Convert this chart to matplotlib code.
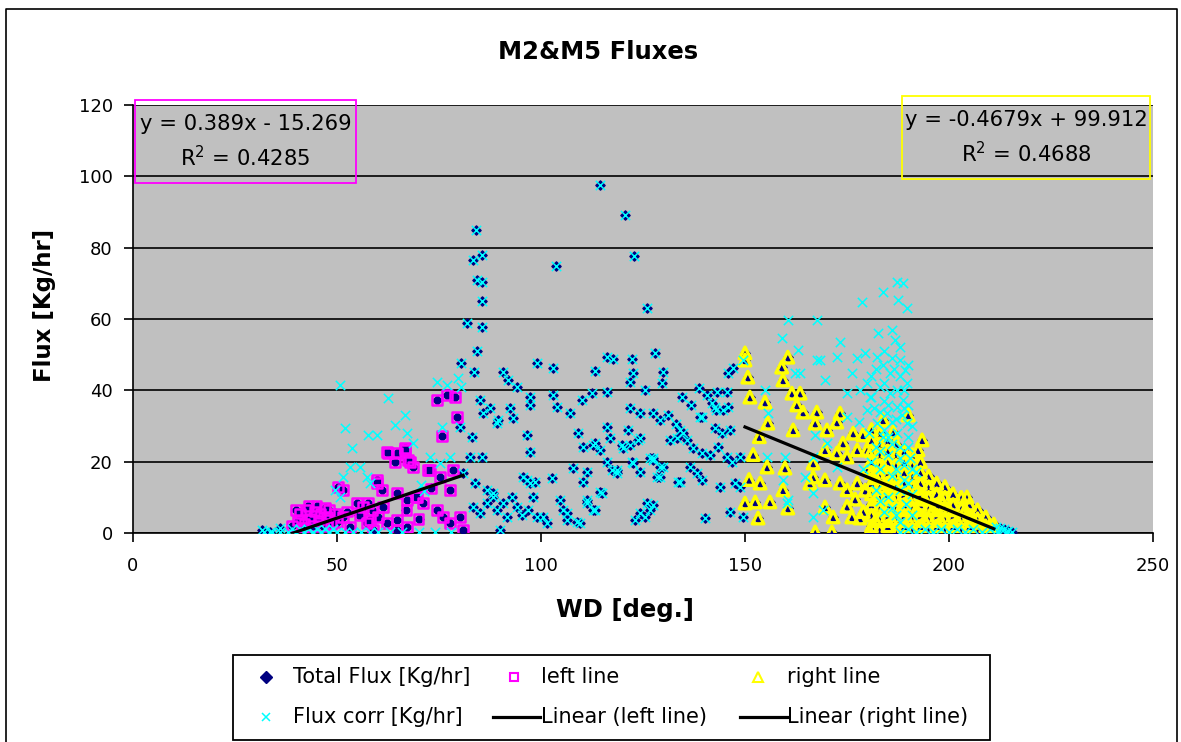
import numpy as np
import matplotlib.pyplot as plt
from matplotlib.lines import Line2D
from matplotlib.patches import Rectangle

# total flux points in the middle (flux corr equals total here)
mid_pts = [
    (114.5, 97.6), (120.6, 89.2), (84.1, 85), (103.7, 74.9), (122.8, 77.7), (83.3, 76.5), (85.5, 78),
    (84.2, 71), (85.5, 70.4), (85.5, 65), (126, 63), (81.8, 58.9), (85.5, 57.8), (84.3, 51),
    (80.4, 47.7), (83.6, 45.1), (99, 47.7), (102.9, 46.3), (113.2, 45.4), (116.2, 49.3), (117.6, 48.8),
    (122.3, 48.8), (127.9, 50.5), (90.7, 45.1), (91.9, 42.9), (94.1, 40.9), (97.3, 38.1), (97.3, 35.9),
    (102.9, 38.7), (103.9, 35.3), (107.1, 33.6), (110, 37.3), (112.5, 39.2), (116.2, 39.5), (122.5, 44.9),
    (121.8, 42.3), (125.5, 40.1), (129.9, 45.1), (129.7, 42), (121.8, 35), (124.3, 33.6), (127.5, 33.6),
    (129.2, 31.7), (85, 37.3), (87.5, 35), (89.2, 30.8), (92.4, 35), (93.1, 32.2), (96.6, 27.5),
    (97.3, 22.7), (109.1, 28), (110.3, 24.1), (112.7, 24.7), (114.5, 23.3), (116.2, 29.7), (116.9, 26.6),
    (120.1, 23.8), (121.8, 24.7), (124.3, 26.6), (133.3, 26.6), (134.8, 28), (139, 32.5), (107.8, 18.2),
    (111.3, 17.1), (110.3, 14.3), (116.2, 19.9), (118.6, 17.7), (122.5, 19.6), (124.3, 17.1), (127.5, 20.5),
    (129.9, 18.5), (129.2, 15.7), (134.1, 14.3), (96.6, 14.9), (98.5, 14.3), (102.7, 15.4), (114.5, 11.5),
    (111.3, 9.3), (112.7, 6.4), (126, 8.4), (124.3, 5.6), (123, 3.6), (140.2, 4.2), (104.7, 9.3),
    (106.4, 5.6), (108.8, 3.1), (83.3, 7.3), (85, 5.6), (86.8, 8.4), (88.2, 11.2), (89.2, 6.4),
    (90.7, 8.4), (91.7, 4.5), (92.9, 10.1), (94.1, 7.3), (95.3, 5), (96.8, 6.4), (98, 10.1), (99, 4.5),
    (100.5, 4.5), (101.5, 2.8), (90, 0.8), (105.4, 6.4), (106.4, 3.6), (109.6, 2.8), (111.3, 8.4),
    (113.2, 6.4), (114.9, 11.2), (85.8, 33.6), (89.5, 31.7), (82.6, 21.3), (85.5, 21.3), (80.1, 29.7),
    (83.1, 26.9), (80.9, 16.8), (83.8, 14), (86.8, 12.1), (88.2, 10.1), (95.6, 15.7), (97.3, 14),
    (113.2, 25.2), (119.9, 24.7), (121.3, 28.9), (123.8, 26.1), (117.4, 17.7), (118.6, 16.8),
    (122.3, 19.9), (126.7, 21), (127.5, 7.9), (138.7, 40.7), (140.7, 38.7), (141.9, 36.5), (142.9, 34.5),
    (145.8, 44.9), (147, 46.3), (143.1, 39.5), (145.6, 39.5), (142.6, 35.3), (144.6, 34.5), (145.8, 35.3),
    (139.5, 32.5), (142.6, 29.4), (144.4, 28), (146.3, 28.9), (134.1, 28.9), (135.8, 26.1), (131.6, 26.1),
    (137.3, 23.8), (139.5, 22.4), (141.4, 21.9), (143.4, 24.1), (145.6, 21.3), (146.8, 19.9), (148.8, 21.3),
    (136.5, 18.5), (138.2, 16.8), (139.5, 14.9), (127.5, 21), (129.2, 18.5), (128.4, 15.7), (133.6, 14.3),
    (143.9, 12.9), (147.5, 14), (148.8, 12.9), (146.3, 5.9), (149.5, 4.5), (126.7, 6.4), (125.5, 4.5),
    (134.6, 38), (136.8, 36), (131.2, 33.2), (133, 30.5), (31.6, 0.8), (33.6, 0.3), (36, 1.4),
    (211.5, 1.8), (212.5, 1.5), (213.5, 1.0), (214.5, 0.5), (215.5, 0.3),
]

# "left line" subset
left_pts = [
    (74.5, 37.3), (77, 38.7), (78.9, 38.1), (79.4, 32.5), (75.7, 27.2), (62.5, 22.4), (64.2, 19.9),
    (66.7, 23.8), (67.9, 19.9), (68.6, 18.5), (72.3, 17.7), (50.2, 12.9), (59.8, 14), (61, 12.1),
    (57.6, 8.4), (58.6, 6.4), (64.7, 11.2), (67.2, 9.3), (69.6, 10.1), (71.1, 8.4), (74.5, 6.4),
    (76, 4.5), (77.7, 2.8), (80.1, 4.5), (80.9, 0.8), (62.3, 2.8), (64.7, 0.8), (67.2, 1.7), (57.4, 2.8),
    (58.8, 0.8), (51.5, 4.5), (53.2, 1.7), (54.9, 8.4), (39, 2), (40.5, 3.5), (41, 5.5), (42, 2.5),
    (42.5, 6.5), (43.5, 4), (44, 2), (44.5, 6), (45.5, 3.5), (46, 5.5), (46.5, 2), (47.5, 4.5), (48, 6.5),
    (48.5, 2.5), (40, 6.5), (49.5, 5.5), (50, 3), (43, 7.5), (72.8, 17.7), (75.2, 15.7), (77.7, 12.1),
    (78.4, 17.7), (69.4, 10.1), (67, 6.4), (64.7, 3.6), (59.8, 14.9), (56.4, 7.3), (58.1, 3.6),
    (61.3, 7.3), (51.5, 12.1), (64.7, 22.4), (66.7, 23.3), (67.4, 20.5), (62.3, 22.7),
    (41.5, 1.5), (45, 7.5), (47, 7), (52.5, 6), (55.5, 5), (60, 4.5), (70, 4), (73, 12.5),
]

# "right line" subset
right_pts = [
    (150, 50.5), (150, 48.5), (150.7, 43.7), (151.2, 38.1), (154.9, 36.7), (155.6, 30.8), (159, 46.5),
    (159.3, 42.9), (160.5, 49.3), (161.5, 39.2), (163.5, 39.2), (162.7, 35.9), (164.2, 33.9),
    (161.8, 28.9), (167.6, 33.9), (167.2, 30.8), (170.1, 28.9), (173.3, 33.6), (172.5, 31.1),
    (155.4, 18.5), (159.8, 18.2), (159.3, 12.1), (160.5, 7), (150, 8.4), (152.5, 8.7), (156.1, 8.7),
    (153.2, 4.2), (153.7, 14), (166.7, 19.6), (166.7, 15.7), (165.9, 14), (169.6, 14.9), (169.6, 7.3),
    (171.6, 4.5), (176.2, 4.5), (178.2, 4.2), (167.2, 0.3), (171.3, 0.3), (180.6, 0.3), (187.3, 0.3),
    (176.5, 28), (178.9, 27.5), (174, 25.2), (177.5, 23.3), (179.9, 23.3), (183.8, 31.7), (186.3, 28.3),
    (190, 33.1), (193.4, 26.1), (192.4, 23.3), (169.6, 23.3), (172.5, 22.4), (175, 21.3), (173.3, 14),
    (175, 12.1), (177.5, 14), (175, 7.5), (177, 9.5), (151, 15), (152, 22), (153.5, 27),
    (181, 2), (181, 5), (181, 8), (181, 11), (181, 14), (181, 17), (181, 20), (181, 23), (181, 26), (181, 29),
    (183, 1), (183, 4), (183, 7), (183, 10), (183, 13), (183, 16), (183, 19), (183, 22), (183, 25), (183, 28),
    (185, 2), (185, 5), (185, 8), (185, 11), (185, 14), (185, 17), (185, 20), (185, 23), (185, 26),
    (187, 1), (187, 4), (187, 7), (187, 10), (187, 13), (187, 16), (187, 19), (187, 22), (187, 25),
    (189, 2), (189, 5), (189, 8), (189, 11), (189, 14), (189, 17), (189, 20), (189, 23),
    (191, 1), (191, 4), (191, 7), (191, 10), (191, 13), (191, 16), (191, 19), (191, 22),
    (193, 2), (193, 5), (193, 8), (193, 11), (193, 14), (193, 17), (193, 20),
    (195, 1), (195, 4), (195, 7), (195, 10), (195, 13), (195, 16),
    (197, 2), (197, 5), (197, 8), (197, 11), (197, 14),
    (199, 1), (199, 4), (199, 7), (199, 10), (199, 13),
    (201, 2), (201, 5), (201, 8), (201, 11),
    (203, 1), (203, 4), (203, 7), (203, 10),
    (205, 2), (205, 5), (205, 8), (207, 1), (207, 4), (207, 6.5),
    (209, 2), (209, 4.5), (211, 1), (211, 2.5), (204.4, 10.1),
    (182, 3.5), (182, 9.5), (182, 15.5), (184, 6.5), (184, 12.5), (184, 18.5), (186, 3.5), (186, 9.5),
    (186, 15.5), (188, 6.5), (188, 12.5), (190, 3.5), (190, 9.5), (192, 6.5), (192, 12.5), (194, 3.5),
    (194, 9.5), (196, 6.5), (198, 3.5), (198, 9.5), (200, 6.5), (202, 3.5), (204, 6.5), (206, 3.5),
    (208, 3), (210, 2), (179, 6), (179.5, 12), (180, 18),
]

# flux corr points that differ from total flux
corr_extra = [
    (50.7, 41.5), (62.5, 37.8), (66.7, 33.1), (64.2, 30.3), (67.2, 28), (68.6, 25.2), (52, 29.4),
    (57.6, 27.5), (59.8, 27.5), (53.7, 23.8), (74.5, 42.3), (77, 41.5), (75.7, 29.7), (53.2, 18.5),
    (55.6, 18.5), (51.5, 15.7), (57.4, 15.7), (58.1, 14), (49.5, 12.1), (50.7, 10.1), (72.8, 21.3),
    (75.2, 19.6), (77.7, 21.3), (70.5, 13.5), (71.3, 11.7), (79.6, 43.5), (80.5, 41),
    (187.3, 70.4), (188.7, 70.1), (183.8, 67.6), (187.5, 65.3), (189.7, 63.1), (178.7, 64.8),
    (160.5, 59.7), (167.6, 59.7), (182.6, 56.1), (186, 56.9), (186.8, 54.1), (188, 52.1), (173.3, 53.5),
    (168.4, 48.5), (172.5, 49.3), (163.5, 44.9), (176.2, 44.9), (177.5, 49.1), (179.4, 50.5),
    (182.4, 49.3), (183.8, 47.1), (185.5, 44.9), (188, 48.5), (189.2, 45.7), (175, 39.2), (178.2, 40.1),
    (180.6, 38.1), (183.1, 40.9), (185.5, 39.2), (187.3, 40.1), (189.7, 42), (188.7, 37.3), (175, 32.5),
    (179.9, 34.5), (182.4, 30.8), (184.8, 33.6), (187.3, 35.3), (189.7, 30.8), (183.8, 26.9), (187.3, 28),
    (167.2, 27.5), (170.1, 25.2), (166.7, 21.3), (164.7, 15.7), (172.5, 18.5), (166.7, 11.2),
    (169.1, 6.4), (160.3, 8.4), (166.7, 4.5), (159, 54.7), (163, 51.3), (162.3, 44.9), (167.6, 48.5),
    (169.6, 42.9), (154.9, 40.1), (155.6, 33.6), (155.4, 21.3), (159.8, 21.3), (159.3, 14.9),
    (160.5, 9.3), (149.5, 48.5), (181, 44), (184, 42), (186.5, 46), (189, 40), (181.5, 35), (184, 37),
    (186, 31), (188.5, 33), (190, 36), (182, 24), (185, 22), (188, 24), (190, 27), (183, 18), (186, 16),
    (189, 19), (190.5, 21), (182, 12), (185, 10), (188, 12), (190, 14), (184, 6), (187, 5), (189.5, 8),
    (191, 11), (192, 17), (180.5, 28), (179, 18), (178, 31),
    (180, 42), (182, 46), (184, 51), (186, 49), (188, 44), (190, 47), (181, 38), (183, 34), (185, 36),
    (187, 32), (189, 35), (191, 30), (184, 29), (186, 25), (188, 21), (190, 24), (181, 20), (183, 23),
    (185, 27), (187, 18), (189, 15), (191, 18), (183, 9), (186, 7), (188, 3), (191, 5),
    # zeroed values along the bottom
    (32, 0.3), (34, 0.3), (36, 0.3), (38, 0.3), (39, 1.2), (40, 0.3), (41, 1.2), (42, 0.3), (43, 1.2),
    (44, 0.3), (45, 1.2), (46, 0.3), (47, 1.2), (48, 0.3), (49, 1.2), (50, 0.3), (52, 0.3), (54, 0.3),
    (56, 0.3), (58, 0.3), (60, 0.3), (63, 0.3), (66, 0.3), (70, 0.3), (74, 0.3), (78, 0.3),
    (188, 0.3), (190, 1.2), (192, 0.3), (194, 1.2), (196, 0.3), (198, 1.2), (200, 0.3), (202, 1.2),
    (204, 0.3), (206, 1.2), (208, 0.3), (210, 1.2), (212, 0.3), (214, 0.3),
]

left_fit = (0.389, -15.269)
right_fit = (-0.4679, 99.912)
left_eq = ["y = 0.389x - 15.269", "R$^2$ = 0.4285"]
right_eq = ["y = -0.4679x + 99.912", "R$^2$ = 0.4688"]

mid = np.array(mid_pts)
left = np.array(left_pts)
right = np.array(right_pts)
extra = np.array(corr_extra)
total = np.vstack([mid, left, right])
corr = np.vstack([mid, extra])

W, H = 1181, 742
fig = plt.figure(figsize=(W / 100, H / 100), dpi=100)
ax = fig.add_axes([133 / W, 1 - 533 / H, 1020 / W, 428 / H])
ax.set_facecolor('#C0C0C0')

navy, mag, yel, cyan = '#000080', '#FF00FF', '#FFFF00', '#00FFFF'

ax.scatter(total[:, 0], total[:, 1], marker='D', s=22, color=navy, zorder=3)
ax.scatter(left[:, 0], left[:, 1], marker='s', s=48, facecolors='none', edgecolors=mag, linewidths=1.8, zorder=4)
ax.scatter(right[:, 0], right[:, 1], marker='^', s=70, facecolors='none', edgecolors=yel, linewidths=2.4, zorder=5)
ax.scatter(corr[:, 0], corr[:, 1], marker='x', s=45, color=cyan, linewidths=1.1, zorder=6)

# trendlines over each subset's x range
lx = np.array([left[:, 0].min(), left[:, 0].max()])
rx = np.array([right[:, 0].min(), right[:, 0].max()])
ax.plot(lx, np.polyval(left_fit, lx), color='black', lw=2.3, zorder=7)
ax.plot(rx, np.polyval(right_fit, rx), color='black', lw=2.3, zorder=7)

ax.set_xlim(0, 250)
ax.set_ylim(0, 120)
ax.set_xticks(range(0, 251, 50))
ax.set_yticks(range(0, 121, 20))
ax.yaxis.grid(True, color='black', lw=1.2)
ax.set_axisbelow(True)
for s in ['top', 'right']:
    ax.spines[s].set_visible(False)
for s in ['left', 'bottom']:
    ax.spines[s].set_linewidth(1.2)
ax.tick_params(axis='both', labelsize=13, length=6.5, width=1.2, direction='out')
ax.tick_params(axis='y', pad=8)
ax.tick_params(axis='x', pad=11)

fig.text(598 / W, 1 - 52 / H, 'M2&M5 Fluxes', ha='center', va='center', fontsize=17.5, fontweight='bold')
fig.text(625 / W, 1 - 610 / H, 'WD [deg.]', ha='center', va='center', fontsize=17.5, fontweight='bold')
fig.text(45 / W, 1 - 305 / H, 'Flux [Kg/hr]', ha='center', va='center', rotation=90, fontsize=16.5, fontweight='bold')

# equation boxes
def eq_box(x0, y0, x1, y1, color, lines):
    fig.add_artist(Rectangle((x0 / W, 1 - y1 / H), (x1 - x0) / W, (y1 - y0) / H,
                             transform=fig.transFigure, fill=False, edgecolor=color, lw=1.3, zorder=10))
    cx = (x0 + x1) / 2
    fig.text(cx / W, 1 - (y0 + 24) / H, lines[0], ha='center', va='center', fontsize=15.2, zorder=11)
    fig.text(cx / W, 1 - (y0 + 58) / H, lines[1], ha='center', va='center', fontsize=15.2, zorder=11)

eq_box(135, 100, 356, 183, mag, left_eq)
eq_box(902, 96, 1150, 179, yel, right_eq)

# chart border
fig.add_artist(Line2D([6 / W, 6 / W, 1177 / W, 1177 / W], [0, 1 - 9 / H, 1 - 9 / H, 0],
                      transform=fig.transFigure, color='black', lw=1.2))

# legend, drawn by hand to keep Excel's equal column widths
fig.add_artist(Rectangle((233 / W, 1 - 740 / H), 757 / W, 85 / H, transform=fig.transFigure,
                         facecolor='white', edgecolor='black', lw=1.3))
r1, r2 = 1 - 677 / H, 1 - 717 / H
def leg_marker(px, y, **kw):
    fig.add_artist(Line2D([px / W], [y], transform=fig.transFigure, linestyle='none', **kw))
def leg_line(p0, p1, y):
    fig.add_artist(Line2D([p0 / W, p1 / W], [y, y], transform=fig.transFigure, color='black', lw=2.3))
def leg_text(px, y, s):
    fig.text(px / W, y, s, ha='left', va='center', fontsize=15)

leg_marker(266, r1, marker='D', markersize=6, color=navy)
leg_text(293, r1, 'Total Flux [Kg/hr]')
leg_marker(514, r1, marker='s', markersize=6, markerfacecolor='none', markeredgecolor=mag, markeredgewidth=1.5)
leg_text(541, r1, 'left line')
leg_marker(758, r1, marker='^', markersize=7, markerfacecolor='none', markeredgecolor=yel, markeredgewidth=1.5)
leg_text(787, r1, 'right line')
leg_marker(266, r2, marker='x', markersize=6, color=cyan, markeredgewidth=1.1)
leg_text(293, r2, 'Flux corr [Kg/hr]')
leg_line(493, 540, r2)
leg_text(541, r2, 'Linear (left line)')
leg_line(740, 787, r2)
leg_text(787, r2, 'Linear (right line)')

fig.savefig('out.png', dpi=100)
